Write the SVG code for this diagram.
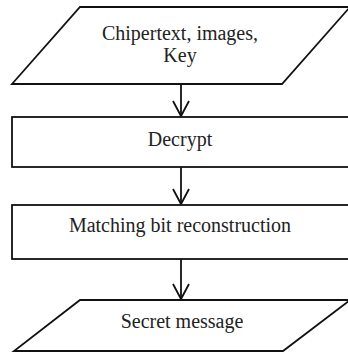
<svg xmlns="http://www.w3.org/2000/svg" width="348" height="352" viewBox="0 0 348 352">
<style>
.shape{fill:#fff;stroke:#111;stroke-width:1.8}
.lbl{font-family:"Liberation Serif","Times New Roman",serif;font-size:20px;fill:#222;text-anchor:middle}
.conn{fill:none;stroke:#111;stroke-width:1.8}
</style>
<defs>
<marker id="arr" markerUnits="userSpaceOnUse" markerWidth="20" markerHeight="20" refX="16" refY="9" orient="auto" viewBox="0 0 20 20">
<path d="M1,1 L16,9 L1,17" fill="none" stroke="#111" stroke-width="1.8"/>
</marker>
</defs>
<rect width="348" height="352" fill="#fff"/>
<g id="connectors">
<path class="conn" d="M181,84 V116" marker-end="url(#arr)"/>
<path class="conn" d="M181,167 V204" marker-end="url(#arr)"/>
<path class="conn" d="M181,259 V299" marker-end="url(#arr)"/>
</g>
<g id="input">
<polygon class="shape" points="80,7 350,7 282,84 12,84"/>
<text class="lbl" x="180" y="40">Chipertext, images,</text>
<text class="lbl" x="180" y="62">Key</text>
</g>
<g id="decrypt">
<rect class="shape" x="12" y="117" width="340" height="50"/>
<text class="lbl" x="180" y="146">Decrypt</text>
</g>
<g id="matching">
<rect class="shape" x="12" y="205" width="340" height="54"/>
<text class="lbl" x="180" y="232">Matching bit reconstruction</text>
</g>
<g id="output">
<polygon class="shape" points="80,300 350,300 283,351 14,351"/>
<text class="lbl" x="182" y="328">Secret message</text>
</g>
</svg>
